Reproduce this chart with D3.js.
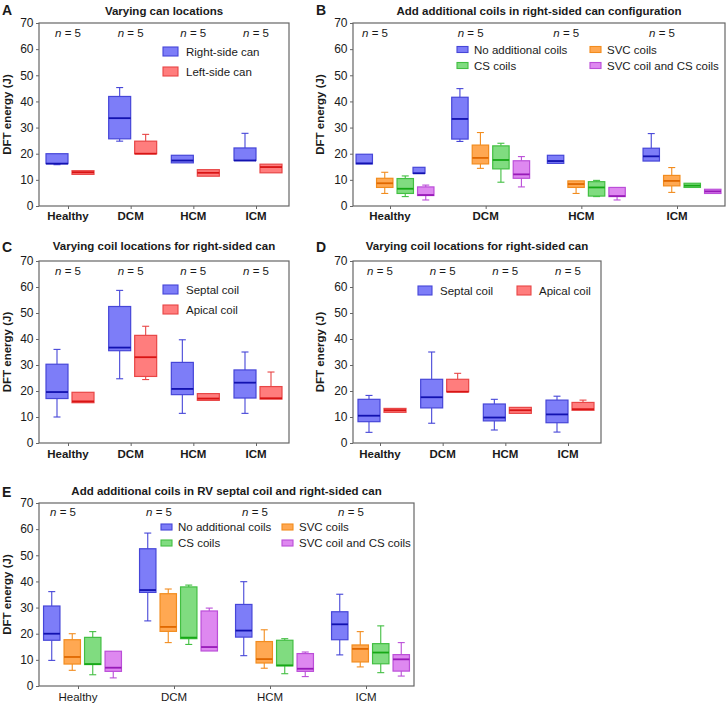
<!DOCTYPE html>
<html>
<head>
<meta charset="utf-8">
<script src="https://cdn.jsdelivr.net/npm/d3@7"></script>
<style>
	body { margin: 0; background: #fff; }
	svg  { display: block; font-family: "Liberation Sans", Arial, Helvetica, sans-serif; }
</style>
</head>
<body>
<script>
// ---- data -------------------------------------------------------------
// every box is [min, q1, median, q3, max], one per category
const categories  = ["Healthy", "DCM", "HCM", "ICM"];
const sampleSizes = [5, 5, 5, 5];
const yTicks      = [0, 10, 20, 30, 40, 50, 60, 70];

// A: varying can locations
const canSeries = ["Right-side can", "Left-side can"];
const canRight  = [[15.8, 16.2, 16.2, 20.0, 20.0], [24.8, 25.7, 33.6, 41.9, 45.3], [16.5, 16.5, 17.4, 19.4, 19.4], [17.4, 17.4, 17.4, 22.2, 27.8]];
const canLeft   = [[12.1, 12.1, 12.9, 13.5, 13.5], [20.0, 20.0, 20.0, 24.8, 27.4], [11.4, 11.4, 12.7, 13.9, 13.9], [12.7, 12.7, 14.9, 16.0, 16.0]];

// B: extra coils, right-sided can
const coilSeries = ["No additional coils", "SVC coils", "CS coils", "SVC coil and CS coils"];
const bNone  = [[16.1, 16.1, 16.3, 19.8, 19.8], [24.7, 25.6, 33.3, 41.6, 44.9], [16.3, 16.3, 17.2, 19.4, 19.4], [17.2, 17.2, 19.0, 22.1, 27.7]];
const bSvc   = [[4.8, 7.1, 8.7, 10.6, 12.9], [14.4, 16.1, 18.4, 23.3, 28.1], [4.8, 7.1, 8.4, 9.6, 9.6], [5.2, 7.7, 9.6, 11.7, 14.7]];
const bCs    = [[3.6, 4.8, 6.6, 10.5, 11.5], [9.1, 14.2, 17.6, 23.0, 24.0], [3.6, 3.8, 7.1, 9.3, 9.8], [7.1, 7.1, 7.8, 8.7, 8.7]];
const bSvcCs = [[2.3, 4.0, 4.2, 7.3, 8.0], [7.3, 10.6, 12.1, 17.3, 18.9], [2.3, 3.6, 3.8, 7.1, 7.1], [4.8, 4.8, 5.6, 6.4, 6.4]];
const bStray = [12.5, 12.5, 12.5, 14.8, 14.8]; // odd little blue box in the Healthy group

// C / D: coil locations, right-sided can
const leadSeries = ["Septal coil", "Apical coil"];
const cSeptal = [[10.0, 17.1, 19.6, 30.3, 36.0], [24.7, 35.5, 36.7, 52.5, 58.7], [11.4, 18.6, 20.8, 31.0, 39.7], [11.4, 17.3, 23.2, 28.1, 35.0]];
const cApical = [[15.5, 15.5, 16.0, 19.5, 19.5], [24.4, 25.6, 33.0, 41.4, 44.9], [16.4, 16.4, 17.1, 19.0, 19.0], [16.9, 16.9, 17.2, 21.7, 27.3]];
const dSeptal = [[4.1, 8.2, 10.5, 16.8, 18.3], [7.6, 13.5, 17.6, 24.5, 35.0], [5.0, 8.5, 9.8, 15.0, 16.8], [4.2, 7.8, 11.0, 16.5, 18.0]];
const dApical = [[11.8, 11.8, 12.6, 13.3, 13.3], [19.7, 19.7, 19.7, 24.5, 26.8], [11.4, 11.4, 12.6, 13.7, 13.7], [12.6, 12.6, 13.0, 15.6, 16.5]];

// E: extra coils, RV septal coil + right-sided can
const eNone  = [[9.8, 17.5, 20.0, 30.6, 36.1], [24.9, 35.8, 36.7, 52.5, 58.5], [11.6, 18.7, 21.2, 31.2, 39.9], [11.9, 17.7, 23.6, 28.4, 35.1]];
const eSvc   = [[6.0, 8.4, 11.1, 17.7, 20.0], [16.6, 20.9, 22.6, 35.3, 37.1], [6.8, 8.8, 10.3, 17.0, 21.5], [7.3, 9.2, 14.2, 15.7, 20.8]];
const eCs    = [[4.3, 8.2, 8.4, 18.6, 20.8], [15.9, 18.1, 18.5, 37.9, 38.6], [4.7, 7.7, 7.9, 17.5, 18.1], [5.1, 8.5, 12.8, 16.2, 23.0]];
const eSvcCs = [[3.1, 5.6, 7.0, 13.3, 13.3], [13.4, 13.4, 14.9, 28.7, 29.8], [3.6, 5.6, 6.6, 12.4, 13.0], [3.8, 5.7, 10.2, 12.0, 16.6]];

// ---- styles -----------------------------------------------------------
const Colors = {
	'blue'  : { fill: '#7d7df8', stroke: '#4646d8', median: '#1212b0' },
	'red'   : { fill: '#ff7d7d', stroke: '#e84646', median: '#d81414' },
	'orange': { fill: '#ffa852', stroke: '#f28c1e', median: '#e06800' },
	'green' : { fill: '#80dc80', stroke: '#42bf42', median: '#16a816' },
	'purple': { fill: '#de88f0', stroke: '#bb4ed8', median: '#981ab8' },
};

const FONT  = 11.5;
const FRAME = '#666';
const INK   = '#1a1a1a';

const svg = d3.select("body").append("svg")
	.attr("width", 727)
	.attr("height", 704);

svg.append("rect").attr("width", 727).attr("height", 704).attr("fill", "#fff");

// one box + whiskers
const BoxPlot = ({ x, w, y, stats, color, cap = 7 }) => {
	return g => {
		const [min, q1, med, q3, max] = stats;
		const cx = x + w / 2;

		const whisk = (a, b) => {
			if (Math.abs(a - b) < 0.05) return;
			g.append("line")
				.attr("x1", cx).attr("x2", cx)
				.attr("y1", y(a)).attr("y2", y(b))
				.attr("stroke", color.stroke)
				.attr("stroke-width", 1.1);
			g.append("line")
				.attr("x1", cx - cap / 2).attr("x2", cx + cap / 2)
				.attr("y1", y(b)).attr("y2", y(b))
				.attr("stroke", color.stroke)
				.attr("stroke-width", 1.1);
		};
		whisk(q3, max);
		whisk(q1, min);

		g.append("rect")
			.attr("x", x)
			.attr("y", y(q3))
			.attr("width", w)
			.attr("height", Math.max(1, y(q1) - y(q3)))
			.attr("fill", color.fill)
			.attr("stroke", color.stroke)
			.attr("stroke-width", 1.2);

		g.append("line")
			.attr("x1", x).attr("x2", x + w)
			.attr("y1", y(med)).attr("y2", y(med))
			.attr("stroke", color.median)
			.attr("stroke-width", 1.8);

		return g;
	};
};

const Legend = ({ x, y, cols, colW, rowH, w, h, gap, items }) => {
	return g => {
		items.forEach((it, i) => {
			const lx = x + (i % cols) * colW;
			const ly = y + Math.floor(i / cols) * rowH;
			g.append("rect")
				.attr("x", lx).attr("y", ly)
				.attr("width", w).attr("height", h)
				.attr("fill", it.color.fill)
				.attr("stroke", it.color.stroke)
				.attr("stroke-width", 1.1);
			g.append("text")
				.attr("x", lx + gap)
				.attr("y", ly + h / 2)
				.attr("dy", "0.36em")
				.attr("font-size", FONT)
				.attr("fill", INK)
				.text(it.name);
		});
		return g;
	};
};

const Panel = ({
	letter, letterX, letterY,
	title, titleY,
	frame,
	xRange,
	groupShift = 0,
	band,
	series,
	legend,
	catY, catBold = true,
	nY, nShift = 0,
	yLabelX,
	extra,
}) => {
	const g = svg.append("g").attr("class", "panel panel-" + letter);

	const y = d3.scaleLinear().domain([0, 70]).range([frame.y1, frame.y0]);
	const x = d3.scalePoint().domain(categories).range(xRange);
	const inner = d3.scaleBand()
		.domain(series.map(s => s.name))
		.range(band.range)
		.paddingInner(band.padding);

	// frame
	g.append("rect")
		.attr("x", frame.x0).attr("y", frame.y0)
		.attr("width", frame.x1 - frame.x0)
		.attr("height", frame.y1 - frame.y0)
		.attr("fill", "none")
		.attr("stroke", FRAME)
		.attr("stroke-width", 1.2);

	// axes
	const yAxis = g.append("g")
		.attr("transform", "translate(" + frame.x0 + ",0)")
		.call(d3.axisLeft(y).tickValues(yTicks).tickSize(3).tickPadding(2.5));
	yAxis.select(".domain").remove();
	yAxis.selectAll("line").attr("stroke", FRAME);
	yAxis.selectAll("text")
		.attr("font-size", 12)
		.attr("font-family", null)
		.attr("fill", INK);

	const xAxis = g.append("g")
		.attr("transform", "translate(0," + frame.y1 + ")")
		.call(d3.axisBottom(x).tickSize(3).tickFormat(""));
	xAxis.select(".domain").remove();
	xAxis.selectAll("line").attr("stroke", FRAME);

	g.append("g").selectAll("text")
		.data(categories)
		.join("text")
		.attr("x", d => x(d))
		.attr("y", catY)
		.attr("text-anchor", "middle")
		.attr("font-size", FONT)
		.attr("font-weight", catBold ? 700 : 400)
		.attr("fill", INK)
		.text(d => d);

	// n = 5
	const nText = g.append("g").selectAll("text")
		.data(categories)
		.join("text")
		.attr("x", d => x(d) + nShift)
		.attr("y", nY)
		.attr("text-anchor", "middle")
		.attr("font-size", FONT)
		.attr("fill", INK);
	nText.append("tspan").attr("font-style", "italic").text("n");
	nText.append("tspan").text((d, i) => " = " + sampleSizes[i]);

	// boxes
	series.forEach(s => {
		s.stats.forEach((st, i) => {
			g.append("g").call(BoxPlot({
				x: x(categories[i]) + groupShift + inner(s.name),
				w: inner.bandwidth(),
				y,
				stats: st,
				color: s.color,
			}));
		});
	});

	if (extra) extra({ g, x, y });

	g.append("g").call(Legend({ ...legend, items: series }));

	// labels
	g.append("text")
		.attr("x", (frame.x0 + frame.x1) / 2)
		.attr("y", titleY)
		.attr("text-anchor", "middle")
		.attr("font-size", FONT)
		.attr("font-weight", 700)
		.attr("fill", INK)
		.text(title);

	g.append("text")
		.attr("x", letterX)
		.attr("y", letterY)
		.attr("font-size", 14)
		.attr("font-weight", 700)
		.attr("fill", INK)
		.text(letter);

	g.append("text")
		.attr("transform", "translate(" + yLabelX + "," + (frame.y0 + frame.y1) / 2 + ") rotate(-90)")
		.attr("text-anchor", "middle")
		.attr("font-size", FONT)
		.attr("font-weight", 700)
		.attr("fill", INK)
		.text("DFT energy (J)");

	return g;
};

const pair = { range: [-22, 26], padding: 0.154 };
const quad = { range: [-38.95, 38.95], padding: 0.2 };

Panel({
	letter: "A", letterX: 2, letterY: 15,
	title: "Varying can locations", titleY: 15,
	frame: { x0: 39, x1: 289, y0: 23, y1: 206 },
	xRange: [68, 256],
	band: pair,
	series: [
		{ name: canSeries[0], color: Colors.blue, stats: canRight },
		{ name: canSeries[1], color: Colors.red,  stats: canLeft },
	],
	legend: { x: 163, y: 47, cols: 1, colW: 0, rowH: 20, w: 15, h: 9, gap: 23 },
	catY: 220, nY: 37, yLabelX: 11,
});

Panel({
	letter: "B", letterX: 316, letterY: 15,
	title: "Add additional coils in right-sided can configuration", titleY: 15,
	frame: { x0: 353, x1: 725, y0: 23, y1: 206 },
	xRange: [390, 677],
	groupShift: 5,
	band: quad,
	series: [
		{ name: coilSeries[0], color: Colors.blue,   stats: bNone },
		{ name: coilSeries[1], color: Colors.orange, stats: bSvc },
		{ name: coilSeries[2], color: Colors.green,  stats: bCs },
		{ name: coilSeries[3], color: Colors.purple, stats: bSvcCs },
	],
	legend: { x: 457, y: 46.5, cols: 2, colW: 133, rowH: 16, w: 11, h: 6, gap: 17 },
	catY: 220, nY: 37, nShift: -15, yLabelX: 324,
	extra: ({ g, x, y }) => {
		g.append("g").call(BoxPlot({
			x: x(categories[0]) + 23, w: 12, y,
			stats: bStray, color: Colors.blue,
		}));
	},
});

Panel({
	letter: "C", letterX: 2, letterY: 252,
	title: "Varying coil locations for right-sided can", titleY: 250,
	frame: { x0: 39, x1: 289, y0: 261, y1: 443 },
	xRange: [68, 256],
	band: pair,
	series: [
		{ name: leadSeries[0], color: Colors.blue, stats: cSeptal },
		{ name: leadSeries[1], color: Colors.red,  stats: cApical },
	],
	legend: { x: 163, y: 285, cols: 1, colW: 0, rowH: 20, w: 15, h: 9, gap: 23 },
	catY: 458, nY: 275, yLabelX: 11,
});

Panel({
	letter: "D", letterX: 316, letterY: 252,
	title: "Varying coil locations for right-sided can", titleY: 250,
	frame: { x0: 353, x1: 601, y0: 261, y1: 443 },
	xRange: [380, 568],
	band: pair,
	series: [
		{ name: leadSeries[0], color: Colors.blue, stats: dSeptal },
		{ name: leadSeries[1], color: Colors.red,  stats: dApical },
	],
	legend: { x: 418, y: 286, cols: 2, colW: 99, rowH: 20, w: 14, h: 9, gap: 22 },
	catY: 458, nY: 275, yLabelX: 324,
});

Panel({
	letter: "E", letterX: 2, letterY: 497,
	title: "Add additional coils in RV septal coil and right-sided can", titleY: 495,
	frame: { x0: 39, x1: 414, y0: 503, y1: 686 },
	xRange: [78, 366],
	groupShift: 4.5,
	band: quad,
	series: [
		{ name: coilSeries[0], color: Colors.blue,   stats: eNone },
		{ name: coilSeries[1], color: Colors.orange, stats: eSvc },
		{ name: coilSeries[2], color: Colors.green,  stats: eCs },
		{ name: coilSeries[3], color: Colors.purple, stats: eSvcCs },
	],
	legend: { x: 161, y: 524, cols: 2, colW: 121, rowH: 16, w: 11, h: 6, gap: 17 },
	catY: 701, catBold: false, nY: 515.5, nShift: -15, yLabelX: 11,
});
</script>
</body>
</html>
